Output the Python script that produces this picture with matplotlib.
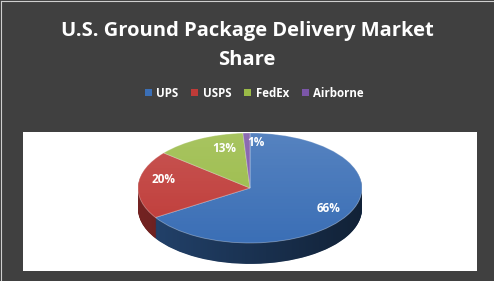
import numpy as np
import matplotlib
matplotlib.use("Agg")
import matplotlib.pyplot as plt
from matplotlib.patches import Polygon
from matplotlib.lines import Line2D
from matplotlib.colors import to_rgb

# data
carriers = ["UPS", "USPS", "FedEx", "Airborne"]
share = [66, 20, 13, 1]
top_colors = ["#3b6fb6", "#bf3b38", "#9abb47", "#7b56a8"]
title = "U.S. Ground Package Delivery Market\nShare"

bg = "#404040"
depth = 0.38      # pie thickness, in units of the short radius
n_layers = 40

plt.rcParams['font.family'] = ['Open Sans', 'DejaVu Sans']

fig = plt.figure(figsize=(4.94, 2.81), dpi=100)
fig.patch.set_facecolor(bg)
# thin light edge on the left and top
fig.lines.append(Line2D([0.002, 0.002], [0, 0.996], transform=fig.transFigure,
                        color="#cfcfcf", linewidth=0.8))
fig.lines.append(Line2D([0.002, 1], [0.996, 0.996], transform=fig.transFigure,
                        color="#cfcfcf", linewidth=0.8))

# white plot area, pie squashed by unequal x/y scales
ax = fig.add_axes([23 / 494, 10 / 281, 454 / 494, 139 / 281])
ax.set_facecolor("white")
ax.set_xticks([])
ax.set_yticks([])
for s in ax.spines.values():
    s.set_visible(False)


def shade(c, f):
    r, g, b = to_rgb(c)
    return (r * f, g * f, b * f)


side_colors = [shade(c, 0.6) for c in top_colors]

# side of the pie: stacked darker pies
for k in range(n_layers):
    off = -depth + depth * k / n_layers
    ax.pie(share, colors=side_colors, startangle=90, counterclock=False,
           center=(0, off), radius=1, frame=True,
           wedgeprops=dict(linewidth=0))

# darken the side towards the right
t = np.linspace(np.pi, 2 * np.pi, 200)
side_pts = np.vstack([np.column_stack([np.cos(t), np.sin(t)]),
                      np.column_stack([np.cos(t[::-1]), np.sin(t[::-1]) - depth])])
side_clip = Polygon(side_pts, closed=True, transform=ax.transData)
grad = np.zeros((1, 256, 4))
grad[0, :, 3] = np.linspace(0.0, 0.5, 256)
im = ax.imshow(grad, extent=(-1, 1, -1 - depth, 0), aspect="auto", zorder=2)
im.set_clip_path(side_clip)

# top face
wedges, texts, autotexts = ax.pie(
    share, colors=top_colors, startangle=90, counterclock=False,
    center=(0, 0), radius=1, frame=True, autopct="%d%%", pctdistance=0.8,
    wedgeprops=dict(linewidth=0.6, edgecolor=(1, 1, 1, 0.35)),
    textprops=dict(color="white", fontsize=8.5, fontweight="bold"))
for w in wedges:
    w.set_zorder(3)

# subtle highlight on the upper part of the top face
t2 = np.linspace(0, 2 * np.pi, 300)
top_clip = Polygon(np.column_stack([np.cos(t2), np.sin(t2)]), closed=True,
                   transform=ax.transData)
hl = np.ones((256, 1, 4))
hl[:, 0, 3] = np.linspace(0.14, 0.0, 256)
im2 = ax.imshow(hl, extent=(-1, 1, -1, 1), aspect="auto", zorder=4)
im2.set_clip_path(top_clip)

# label nudges (data units) to follow the reference placement
nudges = [(0.0, 0.02), (0.03, 0.1), (0.13, 0.0), (0.08, 0.02)]
for txt, (dx, dy) in zip(autotexts, nudges):
    x, y = txt.get_position()
    txt.set_position((x + dx, y + dy))
    txt.set_zorder(5)

ax.set_xlim(-2.027, 2.027)
ax.set_ylim(-1.509, 1.018)
ax.set_aspect("auto")

fig.text(0.5, 0.838, title, ha="center", va="center", color="white",
         fontsize=14.5, fontweight="bold", linespacing=1.62)

leg = fig.legend(wedges, carriers, loc="center", bbox_to_anchor=(0.515, 0.668),
                 ncol=4, frameon=False, handlelength=0.6, handleheight=0.6,
                 handletextpad=0.4, columnspacing=1.1,
                 prop=dict(size=8.3, weight="bold"))
for txt in leg.get_texts():
    txt.set_color("white")
for h in leg.legend_handles:
    h.set_edgecolor("none")

fig.savefig("out.png", dpi=100, facecolor=bg)
